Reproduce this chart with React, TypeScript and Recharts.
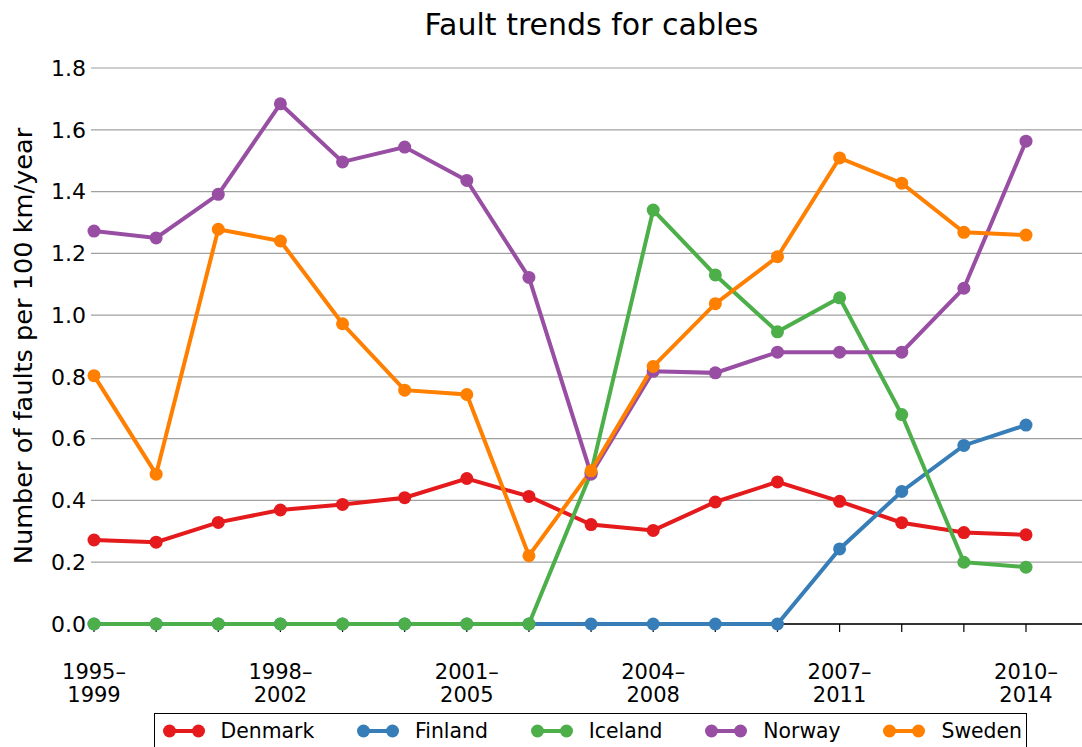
import React from "react";
import {
  LineChart,
  Line,
  XAxis,
  YAxis,
  CartesianGrid,
} from "recharts";

// five-year rolling periods
const periods = [
  "1995–1999", "1996–2000", "1997–2001", "1998–2002",
  "1999–2003", "2000–2004", "2001–2005", "2002–2006",
  "2003–2007", "2004–2008", "2005–2009", "2006–2010",
  "2007–2011", "2008–2012", "2009–2013", "2010–2014",
];

// faults per 100 km/year
const denmark = [0.272, 0.265, 0.329, 0.369, 0.387, 0.409, 0.471, 0.413, 0.322, 0.303, 0.395, 0.46, 0.397, 0.328, 0.296, 0.289];
const finland = [0, 0, 0, 0, 0, 0, 0, 0, 0, 0, 0, 0, 0.243, 0.429, 0.578, 0.644];
const iceland = [0, 0, 0, 0, 0, 0, 0, 0, 0.49, 1.34, 1.13, 0.946, 1.056, 0.678, 0.2, 0.184];
const norway = [1.272, 1.25, 1.391, 1.684, 1.496, 1.544, 1.436, 1.122, 0.485, 0.818, 0.813, 0.88, 0.88, 0.88, 1.087, 1.563];
const sweden = [0.804, 0.485, 1.278, 1.24, 0.972, 0.757, 0.743, 0.221, 0.496, 0.834, 1.037, 1.189, 1.509, 1.427, 1.268, 1.259];

const yTicks = [0, 0.2, 0.4, 0.6, 0.8, 1.0, 1.2, 1.4, 1.6, 1.8];

const series = [
  { key: "Denmark", values: denmark, color: "#e41a1c" },
  { key: "Finland", values: finland, color: "#377eb8" },
  { key: "Iceland", values: iceland, color: "#4daf4a" },
  { key: "Norway", values: norway, color: "#984ea3" },
  { key: "Sweden", values: sweden, color: "#ff7f00" },
];

const rows = periods.map((period, i) => {
  const row: Record<string, string | number> = { period };
  series.forEach((s) => {
    row[s.key] = s.values[i];
  });
  return row;
});

const FONT = "'DejaVu Sans', sans-serif";

// only every third period gets a label, split over two lines
function PeriodTick(props: any) {
  const { x, y, payload } = props;
  const idx = periods.indexOf(payload.value);
  if (idx % 3 !== 0) return <g />;
  const [from, to] = String(payload.value).split("–");
  return (
    <text x={x} y={y} textAnchor="middle" fontSize={21} fill="#000" fontFamily={FONT}>
      <tspan x={x} dy={45}>{from}–</tspan>
      <tspan x={x} dy={23}>{to}</tspan>
    </text>
  );
}

function YLabel(props: any) {
  const { viewBox } = props;
  const cx = 23;
  const cy = viewBox.y + viewBox.height / 2;
  return (
    <text
      x={cx}
      y={cy}
      transform={`rotate(-90 ${cx} ${cy})`}
      textAnchor="middle"
      dominantBaseline="central"
      fontSize={25.6}
      fill="#000"
      fontFamily={FONT}
    >
      Number of faults per 100 km/year
    </text>
  );
}

function LegendIcon({ color }: { color: string }) {
  return (
    <svg width={42} height={14} style={{ display: "block" }}>
      <line x1={6.5} y1={7} x2={35.5} y2={7} stroke={color} strokeWidth={4} />
      <circle cx={6.5} cy={7} r={6.5} fill={color} />
      <circle cx={35.5} cy={7} r={6.5} fill={color} />
    </svg>
  );
}

export default function App() {
  return (
    <div
      style={{
        position: "absolute",
        left: 0,
        top: 0,
        width: 1082,
        height: 747,
        overflow: "hidden",
        background: "#fff",
        fontFamily: FONT,
      }}
    >
      <div
        style={{
          position: "absolute",
          left: 91,
          width: 1001,
          top: 10,
          textAlign: "center",
          fontSize: 30,
          lineHeight: "30px",
          color: "#000",
        }}
      >
        Fault trends for cables
      </div>

      <LineChart
        width={1100}
        height={747}
        data={rows}
        margin={{ top: 68, right: 8, bottom: 0, left: 0 }}
      >
        <CartesianGrid vertical={false} stroke="#a0a0a0" strokeWidth={1.2} />
        {/* baseline at zero, kept underneath the series */}
        <CartesianGrid
          vertical={false}
          stroke="#000"
          strokeWidth={1.6}
          horizontalCoordinatesGenerator={({ offset }: any) => [offset.top + offset.height]}
        />
        <XAxis
          dataKey="period"
          height={123}
          interval={0}
          padding={{ left: 3, right: 66 }}
          axisLine={false}
          tickLine={{ stroke: "#000", strokeWidth: 1.2 }}
          tickSize={8}
          tick={<PeriodTick />}
        />
        <YAxis
          width={91}
          domain={[0, 1.8]}
          ticks={yTicks}
          interval={0}
          axisLine={false}
          tickLine={false}
          tickSize={3}
          tickMargin={2}
          tickFormatter={(v: number) => v.toFixed(1)}
          tick={{ fontSize: 22, fill: "#000", fontFamily: FONT }}
          label={<YLabel />}
        />
        {series.map((s) => (
          <Line
            key={s.key}
            dataKey={s.key}
            stroke={s.color}
            strokeWidth={4}
            dot={{ r: 6.5, fill: s.color, stroke: "none" }}
            activeDot={false}
            isAnimationActive={false}
          />
        ))}
      </LineChart>

      <div
        style={{
          position: "absolute",
          left: 154,
          top: 713,
          width: 873,
          height: 60,
          boxSizing: "border-box",
          border: "1.6px solid #000",
          display: "flex",
          alignItems: "flex-start",
          paddingLeft: 7.5,
          paddingTop: 9,
        }}
      >
        {series.map((s, i) => (
          <div
            key={s.key}
            style={{
              display: "flex",
              alignItems: "center",
              marginRight: i < series.length - 1 ? 42.8 : 0,
            }}
          >
            <LegendIcon color={s.color} />
            <span style={{ marginLeft: 16, fontSize: 20.4, lineHeight: "16px", color: "#000" }}>
              {s.key}
            </span>
          </div>
        ))}
      </div>
    </div>
  );
}
